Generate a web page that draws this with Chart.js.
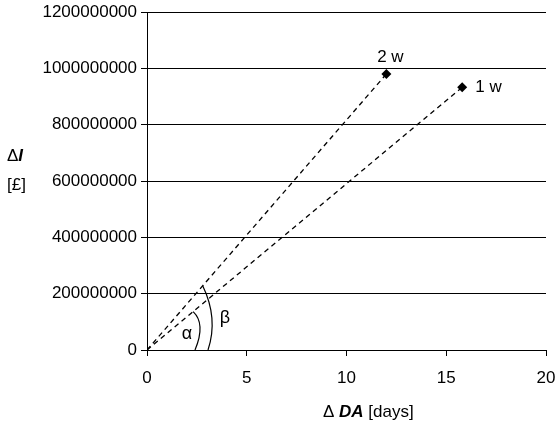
<!DOCTYPE html>
<html>
<head>
<meta charset="utf-8">
<script src="https://cdn.jsdelivr.net/npm/chart.js@4/dist/chart.umd.min.js"></script>
<style>
html,body{margin:0;padding:0;background:#fff;}
#wrap{width:556px;height:423px;position:relative;}
</style>
</head>
<body>
<div id="wrap"><canvas id="c" width="556" height="423"></canvas></div>
<script>
// Data
const seriesLabels = ['2 w', '1 w'];
const deltaDA = [12, 15.8];            // days
const deltaI = [980000000, 933000000]; // £
const xTicks = [0, 5, 10, 15, 20];
const yTicks = [0, 200000000, 400000000, 600000000, 800000000, 1000000000, 1200000000];

const FONT = "'Liberation Sans', Arial, sans-serif";
const FS = 17;

const datasets = deltaDA.map((x, i) => ({
  label: seriesLabels[i],
  data: [{x: 0, y: 0}, {x: x, y: deltaI[i]}],
  showLine: true,
  borderColor: '#000',
  borderWidth: 1.3,
  borderDash: [5, 4],
  pointStyle: 'rectRot',
  pointRadius: [0, 5],
  pointBackgroundColor: '#000',
  pointBorderColor: '#000',
  pointBorderWidth: 0
}));

const annot = {
  id: 'annot',
  afterDatasetsDraw(chart) {
    const ctx = chart.ctx;
    const xs = chart.scales.x, ys = chart.scales.y;
    const ox = xs.getPixelForValue(0), oy = ys.getPixelForValue(0);
    ctx.save();
    ctx.fillStyle = '#000';
    ctx.font = FS + 'px ' + FONT;
    const p0 = [xs.getPixelForValue(deltaDA[0]), ys.getPixelForValue(deltaI[0])];
    const p1 = [xs.getPixelForValue(deltaDA[1]), ys.getPixelForValue(deltaI[1])];
    ctx.textBaseline = 'middle';
    ctx.textAlign = 'center';
    ctx.fillText(seriesLabels[0], p0[0] + 4, p0[1] - 17);
    ctx.textAlign = 'left';
    ctx.fillText(seriesLabels[1], p1[0] + 13, p1[1]);
    function dir(p) { const dx = p[0] - ox, dy = p[1] - oy; const l = Math.hypot(dx, dy); return [dx / l, dy / l]; }
    const d0 = dir(p0), d1 = dir(p1);
    ctx.strokeStyle = '#000';
    ctx.lineWidth = 1.2;
    ctx.setLineDash([]);
    ctx.beginPath();
    ctx.moveTo(ox + d1[0] * 60, oy + d1[1] * 60);
    ctx.quadraticCurveTo(ox + 59, oy - 26.5, ox + 48, oy);
    ctx.stroke();
    ctx.beginPath();
    ctx.moveTo(ox + d0[0] * 85, oy + d0[1] * 85);
    ctx.quadraticCurveTo(ox + 71.5, oy - 31.5, ox + 61, oy);
    ctx.stroke();
    ctx.textAlign = 'center';
    ctx.font = '18px ' + FONT;
    ctx.fillText('α', ox + 40, oy - 16);
    ctx.fillText('β', ox + 78, oy - 32);

    function mixed(parts, x, y) {
      let cx = x;
      for (const [t, f] of parts) { ctx.font = f; ctx.fillText(t, cx, y); cx += ctx.measureText(t).width; }
    }
    ctx.textAlign = 'left';
    ctx.textBaseline = 'middle';
    const n = FS + 'px ' + FONT, b = 'italic bold ' + FS + 'px ' + FONT;
    mixed([['Δ ', n], ['DA', b], [' [days]', n]], 323, 412);
    mixed([['Δ', n], ['I', b]], 7, 156);
    mixed([['[£]', n]], 7, 185);
    ctx.restore();
  }
};

new Chart(document.getElementById('c'), {
  type: 'scatter',
  data: { datasets },
  options: {
    responsive: false,
    animation: false,
    layout: { padding: { top: 12, right: 10, left: 0, bottom: 0 } },
    plugins: { legend: { display: false }, tooltip: { enabled: false } },
    scales: {
      x: {
        type: 'linear', min: 0, max: 20,
        afterBuildTicks(s) { s.ticks = xTicks.map(v => ({value: v})); },
        afterFit(s) { s.height = 73; s.paddingLeft = 0; s.paddingRight = 0; },
        grid: { drawOnChartArea: false, drawTicks: true, tickLength: 6, color: '#000' },
        border: { display: true, color: '#000', width: 1 },
        ticks: { color: '#000', font: { family: FONT, size: FS }, padding: 12, maxRotation: 0 }
      },
      y: {
        type: 'linear', min: 0, max: 1200000000,
        afterBuildTicks(s) { s.ticks = yTicks.map(v => ({value: v})); },
        afterFit(s) { s.width = 147; s.paddingTop = 0; s.paddingBottom = 0; },
        grid: { drawOnChartArea: true, drawTicks: true, tickLength: 6, color: '#000', lineWidth: 1 },
        border: { display: true, color: '#000', width: 1 },
        ticks: { color: '#000', font: { family: FONT, size: FS }, padding: 4, callback: v => String(v) }
      }
    }
  },
  plugins: [annot]
});
</script>
</body>
</html>
